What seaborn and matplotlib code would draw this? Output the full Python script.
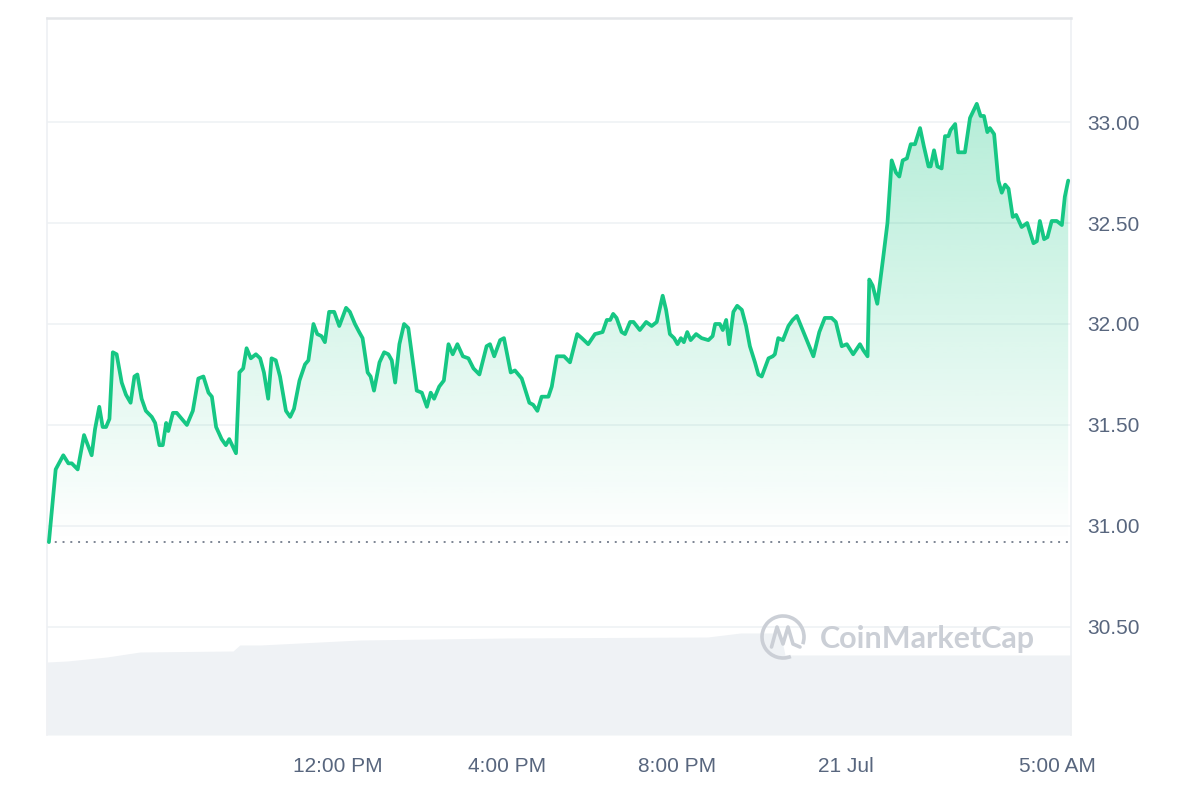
import numpy as np
import pandas as pd
import matplotlib.pyplot as plt
import matplotlib.colors as mcolors
import seaborn as sns
from matplotlib.patches import Polygon, Arc

# price trace, hours counted from 20 Jul 00:00
hours = [5.17, 5.33, 5.51, 5.63, 5.71, 5.85, 6.00, 6.18, 6.26, 6.36, 6.44, 6.52, 6.60, 6.68, 6.77, 6.89,
         6.99, 7.10, 7.19, 7.26, 7.36, 7.46, 7.60, 7.68, 7.78, 7.86, 7.94, 7.99, 8.10, 8.19, 8.31, 8.43,
         8.57, 8.70, 8.82, 8.94, 9.02, 9.12, 9.25, 9.35, 9.43, 9.59, 9.67, 9.76, 9.84, 9.94, 10.06, 10.16,
         10.25, 10.35, 10.43, 10.53, 10.63, 10.77, 10.87, 10.96, 11.09, 11.22, 11.30, 11.42, 11.51, 11.61,
         11.69, 11.79, 11.91, 12.03, 12.19, 12.28, 12.40, 12.50, 12.58, 12.70, 12.77, 12.85, 12.98, 13.09,
         13.19, 13.27, 13.35, 13.45, 13.56, 13.66, 13.86, 13.98, 14.10, 14.19, 14.27, 14.39, 14.50, 14.61,
         14.71, 14.82, 14.95, 15.08, 15.20, 15.34, 15.51, 15.59, 15.69, 15.83, 15.92, 16.08, 16.18, 16.34,
         16.52, 16.61, 16.71, 16.81, 16.97, 17.05, 17.17, 17.34, 17.48, 17.65, 17.76, 17.91, 18.07, 18.25,
         18.35, 18.43, 18.50, 18.58, 18.70, 18.78, 18.90, 18.98, 19.13, 19.28, 19.41, 19.53, 19.67, 19.75,
         19.84, 19.94, 20.02, 20.10, 20.17, 20.25, 20.33, 20.46, 20.59, 20.75, 20.85, 20.91, 21.02, 21.09,
         21.17, 21.24, 21.34, 21.43, 21.54, 21.64, 21.73, 21.85, 21.93, 22.01, 22.17, 22.27, 22.32, 22.40,
         22.51, 22.64, 22.74, 22.84, 23.23, 23.37, 23.50, 23.66, 23.76, 23.90, 24.02, 24.17, 24.33, 24.41,
         24.51, 24.55, 24.63, 24.74, 24.88, 24.98, 25.08, 25.18, 25.26, 25.34, 25.44, 25.53, 25.63, 25.75,
         25.84, 25.95, 26.00, 26.08, 26.16, 26.26, 26.34, 26.42, 26.47, 26.58, 26.65, 26.81, 26.93, 27.09,
         27.18, 27.26, 27.34, 27.40, 27.50, 27.60, 27.68, 27.76, 27.84, 27.94, 28.02, 28.15, 28.28, 28.43,
         28.51, 28.58, 28.68, 28.76, 28.86, 28.98, 29.10, 29.17, 29.25]
prices = [30.92, 31.28, 31.35, 31.31, 31.31, 31.28, 31.45, 31.35, 31.48, 31.59, 31.49, 31.49, 31.53, 31.86,
          31.85, 31.71, 31.65, 31.61, 31.74, 31.75, 31.63, 31.57, 31.54, 31.51, 31.40, 31.40, 31.51, 31.47,
          31.56, 31.56, 31.53, 31.50, 31.57, 31.73, 31.74, 31.66, 31.64, 31.49, 31.43, 31.40, 31.43, 31.36,
          31.76, 31.78, 31.88, 31.83, 31.85, 31.83, 31.76, 31.63, 31.83, 31.82, 31.74, 31.57, 31.54, 31.58,
          31.72, 31.80, 31.82, 32.00, 31.95, 31.94, 31.91, 32.06, 32.06, 31.99, 32.08, 32.06, 32.00, 31.96,
          31.93, 31.76, 31.74, 31.67, 31.81, 31.86, 31.85, 31.82, 31.71, 31.90, 32.00, 31.98, 31.67, 31.66,
          31.59, 31.66, 31.63, 31.69, 31.72, 31.90, 31.85, 31.90, 31.84, 31.83, 31.78, 31.75, 31.89, 31.90,
          31.84, 31.92, 31.93, 31.76, 31.77, 31.73, 31.61, 31.60, 31.57, 31.64, 31.64, 31.69, 31.84, 31.84,
          31.81, 31.95, 31.93, 31.90, 31.95, 31.96, 32.02, 32.02, 32.05, 32.03, 31.96, 31.95, 32.01, 32.01,
          31.97, 32.01, 31.99, 32.01, 32.14, 32.07, 31.95, 31.93, 31.90, 31.93, 31.91, 31.96, 31.92, 31.95,
          31.93, 31.92, 31.94, 32.00, 32.00, 31.97, 32.02, 31.90, 32.06, 32.09, 32.07, 31.99, 31.89, 31.81,
          31.75, 31.74, 31.83, 31.84, 31.85, 31.93, 31.92, 31.99, 32.02, 32.04, 31.84, 31.96, 32.03, 32.03,
          32.01, 31.89, 31.90, 31.85, 31.90, 31.87, 31.84, 32.22, 32.19, 32.10, 32.33, 32.50, 32.81, 32.75,
          32.73, 32.81, 32.82, 32.89, 32.89, 32.97, 32.88, 32.78, 32.78, 32.86, 32.78, 32.77, 32.93, 32.93,
          32.96, 32.99, 32.85, 32.85, 33.02, 33.09, 33.03, 33.03, 32.95, 32.97, 32.94, 32.71, 32.65, 32.69,
          32.67, 32.53, 32.54, 32.48, 32.50, 32.40, 32.41, 32.51, 32.42, 32.43, 32.51, 32.51, 32.49, 32.63,
          32.71]
open_price = 30.92

# volume band at the bottom (arbitrary units)
vol_hours = [5.13, 5.60, 6.54, 7.32, 9.52, 9.68, 10.16, 12.52, 16.00, 20.73, 21.51, 22.45, 22.56, 29.32]
vol_values = [73, 74, 78, 83, 84, 90, 90, 95, 97, 98, 102, 102, 80, 80]

y_ticks = [30.5, 31.0, 31.5, 32.0, 32.5, 33.0]
x_ticks = [12, 16, 20, 24, 29]
x_labels = ["12:00 PM", "4:00 PM", "8:00 PM", "21 Jul", "5:00 AM"]

GREEN = "#16c784"
TXT = "#58667e"
WM = "#cbcfd6"

sns.set_style("white")
plt.rcParams["font.family"] = ["Liberation Sans", "DejaVu Sans"]

df = pd.DataFrame({"hour": hours, "price": prices})
vol = pd.DataFrame({"hour": vol_hours, "volume": vol_values})

fig = plt.figure(figsize=(12, 8), dpi=100)
pos = [47 / 1200, 65 / 800, 1024 / 1200, 717 / 800]
xlim = (5.125, 29.316)

ax_vol = fig.add_axes(pos, zorder=0)
ax_vol.fill_between(vol["hour"], vol["volume"], 0, color="#eff2f5", lw=0)
ax_vol.set_xlim(xlim)
ax_vol.set_ylim(0, 717)
ax_vol.axis("off")

ax = fig.add_axes(pos, zorder=1)
ax.patch.set_alpha(0)

# gradient under the price line
top = 33.1
grad = np.zeros((256, 1, 4))
grad[..., :3] = mcolors.to_rgb(GREEN)
grad[:, 0, 3] = np.linspace(0.0, 0.32, 256)
im = ax.imshow(grad, extent=[xlim[0], xlim[1], open_price, top], origin="lower",
               aspect="auto", zorder=1, interpolation="bilinear")
verts = np.column_stack([hours + hours[::-1], prices + [open_price] * len(hours)])
clip = Polygon(verts, closed=True, facecolor="none", edgecolor="none", transform=ax.transData)
ax.add_patch(clip)
im.set_clip_path(clip)

sns.lineplot(data=df, x="hour", y="price", ax=ax, color=GREEN, lw=2.7, zorder=3, estimator=None)
ax.axhline(open_price, color="#7d8594", lw=1.4, ls=(0, (1, 3)), zorder=2)

ax.set_xlim(xlim)
ax.set_ylim(29.965, 33.515)
ax.set_xlabel("")
ax.set_ylabel("")
ax.yaxis.tick_right()
ax.set_yticks(y_ticks, labels=[f"{t:.2f}" for t in y_ticks])
ax.set_xticks(x_ticks, labels=x_labels)
ax.tick_params(length=0, labelsize=15, labelcolor=TXT)
ax.tick_params(axis="x", pad=16)
ax.tick_params(axis="y", pad=12)
ax.grid(axis="y", color="#eff2f5", lw=1.2)
ax.grid(axis="x", visible=False)
ax.set_axisbelow(True)

for side in ["left", "right"]:
    ax.spines[side].set_color("#eef0f3")
    ax.spines[side].set_linewidth(1.2)
ax.spines["top"].set_color("#e4e6e9")
ax.spines["top"].set_linewidth(1.8)
ax.spines["bottom"].set_visible(False)

# watermark
lax = fig.add_axes([758 / 1200, 1 - 662 / 800, 50 / 1200, 50 / 800], zorder=4)
lax.set_xlim(0, 1)
lax.set_ylim(0, 1)
lax.axis("off")
lax.add_patch(Arc((0.5, 0.5), 0.84, 0.84, theta1=-20, theta2=292, lw=2.6, color=WM))
lax.plot([0.27, 0.38, 0.5, 0.6, 0.7, 0.84], [0.3, 0.7, 0.36, 0.7, 0.36, 0.3],
         color=WM, lw=2.6, solid_capstyle="round", solid_joinstyle="round")
fig.text(820 / 1200, 1 - 639 / 800, "CoinMarketCap", fontsize=22, color=WM,
         family=["Lato", "DejaVu Sans"], weight="bold", va="center", ha="left", zorder=5)

fig.savefig("out.png", dpi=100)
